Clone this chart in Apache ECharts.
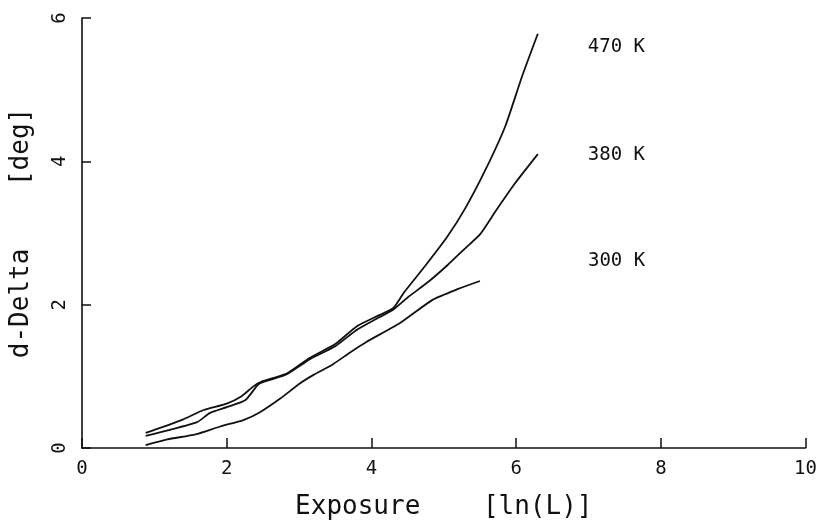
<!DOCTYPE html>
<html>
<head>
<meta charset="utf-8">
<script src="https://cdn.jsdelivr.net/npm/echarts@6/dist/echarts.min.js"></script>
<style>
  html, body { margin: 0; padding: 0; background: #fff; }
  #chart { width: 820px; height: 525px; }
</style>
</head>
<body>
<div id="chart"></div>
<script>
// values: [exposure ln(L), d-Delta deg]
const names = ['470 K', '380 K', '300 K'];

const k470 = [
    [0.88, 0.21], [1.11, 0.29], [1.4, 0.4], [1.68, 0.53], [2.0, 0.62], [2.2, 0.72],
    [2.37, 0.86], [2.49, 0.93], [2.83, 1.04], [3.15, 1.26], [3.5, 1.45], [3.8, 1.7],
    [4.1, 1.85], [4.3, 1.95], [4.45, 2.17], [4.75, 2.55], [5.05, 2.95], [5.3, 3.35],
    [5.58, 3.89], [5.85, 4.49], [6.08, 5.18], [6.3, 5.78]
];
const k380 = [
    [0.88, 0.17], [1.2, 0.25], [1.59, 0.36], [1.77, 0.49], [2.0, 0.57], [2.26, 0.67],
    [2.44, 0.89], [2.6, 0.95], [2.83, 1.03], [3.15, 1.24], [3.5, 1.42], [3.8, 1.65],
    [4.1, 1.82], [4.3, 1.93], [4.5, 2.1], [4.8, 2.33], [5.05, 2.55], [5.3, 2.79],
    [5.5, 2.98], [5.72, 3.31], [5.99, 3.7], [6.3, 4.1]
];
const k300 = [
    [0.88, 0.04], [1.18, 0.12], [1.57, 0.19], [1.91, 0.3], [2.23, 0.39], [2.46, 0.5],
    [2.74, 0.69], [3.01, 0.9], [3.2, 1.02], [3.47, 1.17], [3.7, 1.33], [3.93, 1.48],
    [4.39, 1.74], [4.85, 2.07], [5.2, 2.22], [5.5, 2.33]
];

const font = 'DejaVu Sans Mono';
const ink = '#111';

// end label shifts so the names sit in a column right of the curves
const labelOffsets = [[45, 13], [45, 1], [103, -20]];

function curve(i, data) {
    return {
        name: names[i],
        type: 'line',
        data: data,
        symbol: 'none',
        smooth: 0.2,
        silent: true,
        lineStyle: { color: ink, width: 1.8 },
        endLabel: {
            show: true,
            formatter: names[i],
            fontFamily: font,
            fontSize: 19,
            color: ink,
            distance: 5,
            offset: labelOffsets[i]
        }
    };
}

let option = {
    backgroundColor: '#fff',
    animation: false,
    grid: { left: 81, right: 12, top: 18, bottom: 75 },
    xAxis: {
        type: 'value',
        min: 0,
        max: 10,
        interval: 2,
        name: 'Exposure    [ln(L)]',
        nameLocation: 'middle',
        nameGap: 46,
        nameTextStyle: { fontFamily: font, fontSize: 26, color: ink },
        axisLine: { lineStyle: { color: ink, width: 1.6 } },
        axisTick: { inside: true, length: 10, lineStyle: { color: ink, width: 1.5 } },
        axisLabel: { fontFamily: font, fontSize: 19, color: ink, margin: 12 },
        splitLine: { show: false }
    },
    yAxis: {
        type: 'value',
        min: 0,
        max: 6,
        interval: 2,
        name: 'd-Delta    [deg]',
        nameLocation: 'middle',
        nameGap: 48,
        nameTextStyle: { fontFamily: font, fontSize: 26, color: ink },
        axisLine: { show: true, lineStyle: { color: ink, width: 1.6 } },
        axisTick: { show: true, inside: true, length: 9, lineStyle: { color: ink, width: 1.5 } },
        axisLabel: { fontFamily: font, fontSize: 19, color: ink, rotate: 90, margin: 12 },
        splitLine: { show: false }
    },
    series: [curve(0, k470), curve(1, k380), curve(2, k300)]
};

let myChart = echarts.init(document.getElementById('chart'));
myChart.setOption(option);
</script>
</body>
</html>
